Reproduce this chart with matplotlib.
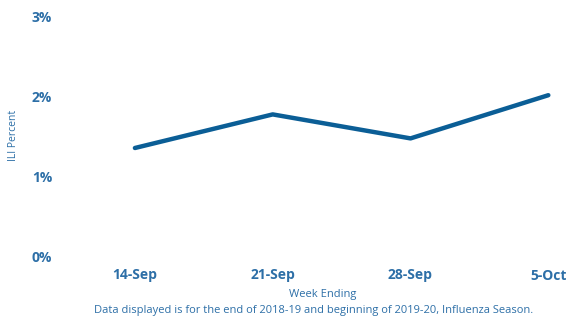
import matplotlib.pyplot as plt

plt.rcParams['font.family'] = ['Open Sans', 'DejaVu Sans']

weeks = ["14-Sep", "21-Sep", "28-Sep", "5-Oct"]
ili_pct = [1.35, 1.77, 1.47, 2.01]
y_ticks = [0, 1, 2, 3]
y_labels = ["0%", "1%", "2%", "3%"]

text_color = "#2d6fa7"
line_color = "#0b5e96"

fig = plt.figure(figsize=(5.69, 3.17), dpi=100)
ax = fig.add_axes([66 / 569, 61 / 317, 503 / 569, 240 / 317])

x = list(range(len(weeks)))
ax.plot(x, ili_pct, color=line_color, linewidth=3.2, solid_capstyle="round")

ax.set_xlim(-0.5, 3.15)
ax.set_ylim(0, 3)
ax.set_xticks(x)
ax.set_xticklabels(weeks)
ax.set_yticks(y_ticks)
ax.set_yticklabels(y_labels)
for lbl in ax.get_xticklabels() + ax.get_yticklabels():
    lbl.set_fontweight("bold")
    lbl.set_fontsize(10)
    lbl.set_color(text_color)
ax.tick_params(length=0)
ax.tick_params(axis="x", pad=9)
ax.tick_params(axis="y", pad=10)
for s in ax.spines.values():
    s.set_visible(False)

fig.text(13 / 569, 1 - 135 / 317, "ILI Percent", color=text_color,
         fontsize=7.5, rotation=90, ha="center", va="center")
fig.text(323 / 569, 1 - 294 / 317, "Week Ending", color=text_color,
         fontsize=8, ha="center", va="center")
fig.text(314 / 569, 1 - 310 / 317,
         "Data displayed is for the end of 2018-19 and beginning of 2019-20, Influenza Season.",
         color=text_color, fontsize=8, ha="center", va="center")

fig.savefig("out.png", dpi=100)
